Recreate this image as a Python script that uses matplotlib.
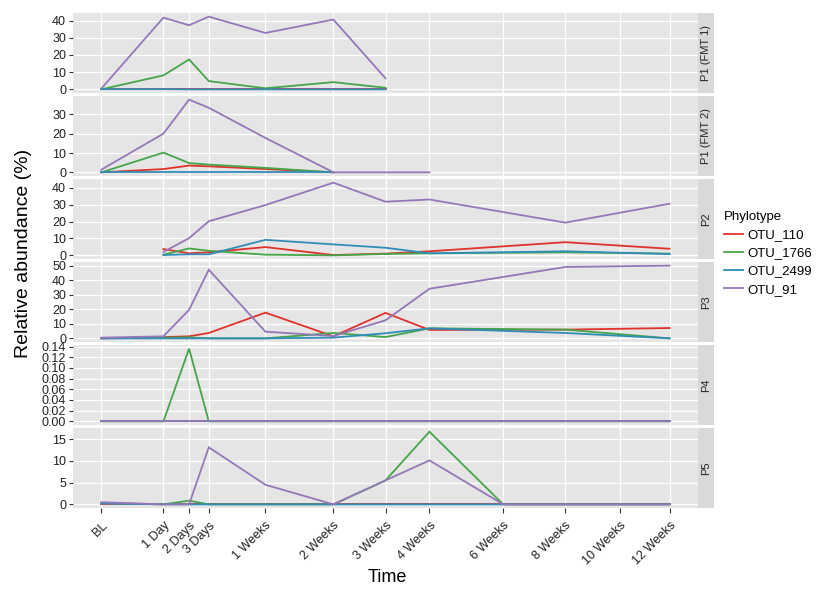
import numpy as np
import matplotlib.pyplot as plt
from matplotlib.ticker import MultipleLocator, FormatStrFormatter

plt.rcParams['font.family'] = ['Liberation Sans', 'DejaVu Sans']

# time points (label -> day), axis is sqrt(day)
time_labels = ['BL', '1 Day', '2 Days', '3 Days', '1 Weeks', '2 Weeks', '3 Weeks',
               '4 Weeks', '6 Weeks', '8 Weeks', '10 Weeks', '12 Weeks']
time_days = [0, 1, 2, 3, 7, 14, 21, 28, 42, 56, 70, 84]

otus = ['OTU_110', 'OTU_1766', 'OTU_2499', 'OTU_91']
otu_colors = ['#E0312B', '#45A549', '#2F8DB8', '#9577B9']

panel_names = ['P1 (FMT 1)', 'P1 (FMT 2)', 'P2', 'P3', 'P4', 'P5']

# P1 (FMT 1)
p1a_time = ['BL', '1 Day', '2 Days', '3 Days', '1 Weeks', '2 Weeks', '3 Weeks']
p1a_110 = [0, 0, 0, 0, 0, 0, 0]
p1a_1766 = [0, 8.1, 17.4, 4.8, 0.6, 4.2, 0.9]
p1a_2499 = [0.1, 0.1, 0, 0, 0, 0, 0]
p1a_91 = [0.5, 41.7, 37.3, 42.3, 32.8, 40.6, 6.4]

# P1 (FMT 2)
p1b_time = ['BL', '1 Day', '2 Days', '3 Days', '1 Weeks', '2 Weeks', '3 Weeks', '4 Weeks']
p1b_110 = [0, 1.7, 3.5, 3.1, 1.7, 0, None, None]
p1b_1766 = [0, 10.2, 4.8, 4.0, 2.3, 0, None, None]
p1b_2499 = [0, 0, 0, 0, 0, 0, None, None]
p1b_91 = [1.4, 20.0, 37.6, 33.4, 17.8, 0, 0, 0]

# P2
p2_time = ['1 Day', '2 Days', '3 Days', '1 Weeks', '2 Weeks', '3 Weeks', '4 Weeks',
           '8 Weeks', '12 Weeks']
p2_110 = [3.7, 1.2, 1.8, 4.9, 0.2, 1.0, 2.4, 7.8, 3.9]
p2_1766 = [0.4, 4.1, 2.7, 0.4, 0, 0.8, 1.2, 1.8, 1.0]
p2_2499 = [0.2, 0.6, 0.6, 9.2, 6.5, 4.5, 1.2, 2.4, 0.8]
p2_91 = [2.0, 10.2, 20.2, 29.8, 43.1, 31.8, 33.1, 19.4, 30.6]

# P3
p3_time = ['BL', '1 Day', '2 Days', '3 Days', '1 Weeks', '2 Weeks', '3 Weeks',
           '4 Weeks', '8 Weeks', '12 Weeks']
p3_110 = [0, 0.9, 1.4, 3.7, 17.7, 1.4, 17.5, 5.8, 6.0, 7.1]
p3_1766 = [0, 0.5, 0.7, 0, 0, 3.7, 0.9, 6.9, 6.0, 0]
p3_2499 = [0, 0, 0, 0, 0, 0.5, 3.5, 6.9, 3.7, 0]
p3_91 = [0.5, 1.4, 19.6, 47.2, 4.6, 1.6, 12.4, 34.1, 49.1, 50.0]

# P4
p4_time = time_labels
p4_110 = [0] * 12
p4_1766 = [0, 0, 0.136, 0, 0, 0, 0, 0, 0, 0, 0, 0]
p4_2499 = [0] * 12
p4_91 = [0] * 12

# P5
p5_time = time_labels
p5_110 = [0] * 12
p5_1766 = [0.3, 0, 0.85, 0, 0, 0, 5.5, 16.7, 0, 0, 0, 0]
p5_2499 = [0.2, 0, 0, 0, 0, 0, 0, 0, 0, 0, 0, 0]
p5_91 = [0.5, 0, 0, 13.1, 4.5, 0, 5.5, 10.1, 0, 0, 0, 0]

panel_data = [
    (p1a_time, [p1a_110, p1a_1766, p1a_2499, p1a_91]),
    (p1b_time, [p1b_110, p1b_1766, p1b_2499, p1b_91]),
    (p2_time, [p2_110, p2_1766, p2_2499, p2_91]),
    (p3_time, [p3_110, p3_1766, p3_2499, p3_91]),
    (p4_time, [p4_110, p4_1766, p4_2499, p4_91]),
    (p5_time, [p5_110, p5_1766, p5_2499, p5_91]),
]
y_steps = [10, 10, 10, 10, 0.02, 5]

W, H = 816, 590
fig, axes = plt.subplots(6, 1, sharex=True, figsize=(W / 100, H / 100), dpi=100)
fig.subplots_adjust(left=73 / W, right=698 / W, top=1 - 13 / H, bottom=1 - 508 / H,
                    hspace=0.038)

xt = np.sqrt(time_days)
xmax = xt[-1]

for i, ax in enumerate(axes):
    times, series = panel_data[i]
    ax.set_facecolor('#E5E5E5')
    for s, vals in enumerate(series):
        xs = [np.sqrt(time_days[time_labels.index(t)]) for t, v in zip(times, vals) if v is not None]
        ys = [v for v in vals if v is not None]
        ax.plot(xs, ys, color=otu_colors[s], lw=1.3, label=otus[s], solid_joinstyle='miter')
    ax.margins(y=0.05)
    ax.yaxis.set_major_locator(MultipleLocator(y_steps[i]))
    if i == 4:
        ax.yaxis.set_major_formatter(FormatStrFormatter('%.2f'))
    else:
        ax.yaxis.set_major_formatter(FormatStrFormatter('%d'))
    ax.grid(True, color='white', lw=0.9)
    ax.set_axisbelow(True)
    for sp in ax.spines.values():
        sp.set_visible(False)
    ax.tick_params(axis='y', length=3, width=0.8, color='#333333', labelsize=9,
                   labelcolor='#222222', pad=2)
    if i < 5:
        ax.tick_params(axis='x', length=0)
    # strip on the right
    pos = ax.get_position()
    sax = fig.add_axes([pos.x1, pos.y0, 16 / W, pos.height])
    sax.set_facecolor('#D9D9D9')
    sax.set_xticks([])
    sax.set_yticks([])
    for sp in sax.spines.values():
        sp.set_visible(False)
    sax.text(0.5, 0.5, panel_names[i], rotation=90, ha='center', va='center',
             fontsize=8, color='#222222', transform=sax.transAxes)

axes[-1].set_xlim(-0.05 * xmax, 1.05 * xmax)
axes[-1].set_xticks(xt)
axes[-1].set_xticklabels(time_labels, rotation=45, ha='right', rotation_mode='anchor')
axes[-1].tick_params(axis='x', length=3.5, width=0.8, color='#333333', labelsize=9,
                     labelcolor='#222222', pad=5)

fig.text(24 / W, 1 - 253 / H, 'Relative abundance (%)', rotation=90,
         ha='center', va='center', fontsize=14)
fig.text(387 / W, 1 - 577 / H, 'Time', ha='center', va='center', fontsize=13)

handles, labels = axes[0].get_legend_handles_labels()
fig.legend(handles, labels, title='Phylotype', loc='upper left',
           bbox_to_anchor=(724 / W, 1 - 211 / H), frameon=False, fontsize=9.5,
           title_fontsize=9.5, handlelength=1.45, handletextpad=0.35,
           labelspacing=0.45, borderpad=0, borderaxespad=0, alignment='left')

fig.savefig('out.png', dpi=100)
